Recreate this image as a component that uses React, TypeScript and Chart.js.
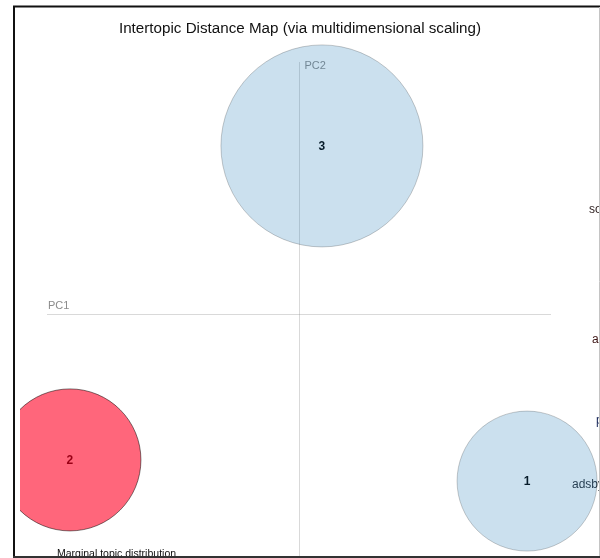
import React, { useEffect, useRef } from "react";
import { Chart, registerables } from "chart.js";

Chart.register(...registerables);

// ---- data ----
const topicIds = ["1", "2", "3"];
const pc1Values = [0.905, -0.909, 0.091];
const pc2Values = [-0.663, -0.579, 0.667];
const marginalPct = [24.3, 25.0, 50.6];
const selectedTopic = "2";

const titleText = "Intertopic Distance Map (via multidimensional scaling)";
const xAxisName = "PC1";
const yAxisName = "PC2";
const sizeLegendText = "Marginal topic distribution";
const termLabels = ["so", "ar", "p", "adsby"];

// ---- styles / layout (not data) ----
const FONT = "'Liberation Sans', Arial, sans-serif";
const RADIUS_PER_SQRT_PCT = 14.2;
const termLayout = [
  { x: 589, y: 210, color: "#2b1d1d" },
  { x: 592, y: 340, color: "#3d1515" },
  { x: 596, y: 421, color: "#1c2b5c" },
  { x: 572, y: 485, color: "#2a2f36" },
];

export default function App() {
  const canvasRef = useRef<HTMLCanvasElement>(null);

  useEffect(() => {
    const canvas = canvasRef.current;
    if (!canvas) return;

    const points = topicIds.map((id, i) => ({
      x: pc1Values[i],
      y: pc2Values[i],
      r: Math.sqrt(marginalPct[i]) * RADIUS_PER_SQRT_PCT,
    }));

    const isSel = (i: number) => topicIds[i] === selectedTopic;

    const overlay = {
      id: "ldavisOverlay",
      beforeDatasetsDraw(chart: any) {
        const { ctx, scales } = chart;
        const xs = scales.x;
        const ys = scales.y;
        const W = chart.width;
        const H = chart.height;
        ctx.save();

        // title
        ctx.fillStyle = "#111";
        ctx.font = `15.2px ${FONT}`;
        ctx.textAlign = "center";
        ctx.textBaseline = "middle";
        ctx.fillText(titleText, W / 2, 28.5);

        // PC axes
        const x0 = Math.round(xs.getPixelForValue(0)) + 0.5;
        const y0 = Math.round(ys.getPixelForValue(0)) + 0.5;
        ctx.strokeStyle = "rgba(128,128,128,0.3)";
        ctx.lineWidth = 1;
        ctx.beginPath();
        ctx.moveTo(xs.getPixelForValue(-1), y0);
        ctx.lineTo(xs.getPixelForValue(1), y0);
        ctx.moveTo(x0, ys.getPixelForValue(1));
        ctx.lineTo(x0, H);
        ctx.stroke();

        ctx.fillStyle = "#8c8c8c";
        ctx.font = `11px ${FONT}`;
        ctx.textAlign = "left";
        ctx.textBaseline = "middle";
        ctx.fillText(xAxisName, xs.getPixelForValue(-1) + 1, y0 - 9);
        ctx.fillText(yAxisName, x0 + 5, ys.getPixelForValue(1) + 4);

        // topic numbers (drawn under the translucent circles)
        ctx.fillStyle = "#000";
        ctx.font = `bold 12px ${FONT}`;
        ctx.textAlign = "center";
        points.forEach((p, i) => {
          ctx.fillText(topicIds[i], xs.getPixelForValue(p.x), ys.getPixelForValue(p.y) + 1);
        });

        // clipped term labels of the neighbouring panel
        ctx.save();
        ctx.beginPath();
        ctx.rect(0, 0, 600, H);
        ctx.clip();
        ctx.font = `12px ${FONT}`;
        ctx.textAlign = "left";
        termLabels.forEach((t, i) => {
          ctx.fillStyle = termLayout[i].color;
          ctx.fillText(t, termLayout[i].x, termLayout[i].y);
        });
        ctx.restore();

        // size legend caption
        ctx.fillStyle = "#111";
        ctx.font = `10.5px ${FONT}`;
        ctx.textAlign = "left";
        ctx.textBaseline = "alphabetic";
        ctx.fillText(sizeLegendText, 57, 557);

        ctx.restore();
      },
      afterDraw(chart: any) {
        const { ctx } = chart;
        ctx.save();
        ctx.strokeStyle = "#111";
        ctx.lineWidth = 2;
        ctx.beginPath();
        ctx.moveTo(14, 558);
        ctx.lineTo(14, 6.5);
        ctx.lineTo(600, 6.5);
        ctx.stroke();
        ctx.beginPath();
        ctx.strokeStyle = "#333";
        ctx.moveTo(13, 557);
        ctx.lineTo(600, 557);
        ctx.stroke();
        ctx.strokeStyle = "#c4c4c4";
        ctx.lineWidth = 1;
        ctx.beginPath();
        ctx.moveTo(599.5, 7);
        ctx.lineTo(599.5, 556);
        ctx.stroke();
        ctx.restore();
      },
    };

    const chart = new Chart(canvas, {
      type: "bubble",
      data: {
        datasets: [
          {
            label: "topics",
            data: points,
            backgroundColor: topicIds.map((_, i) =>
              isSel(i) ? "rgba(255,0,35,0.6)" : "rgba(31,119,180,0.23)"
            ),
            borderColor: topicIds.map((_, i) =>
              isSel(i) ? "rgba(0,0,0,0.5)" : "rgba(0,0,0,0.2)"
            ),
            borderWidth: 1,
            hoverRadius: 0,
            clip: { left: 27, top: 62, right: 47, bottom: -2 },
          } as any,
        ],
      },
      options: {
        responsive: false,
        animation: false,
        events: [],
        layout: { padding: { left: 47, right: 49, top: 62, bottom: 0 }, autoPadding: false },
        scales: {
          x: { type: "linear", min: -1, max: 1, display: false },
          y: { type: "linear", min: -1 + 8 / 252, max: 1, display: false },
        },
        plugins: {
          legend: { display: false },
          tooltip: { enabled: false },
          title: { display: false },
        },
      },
      plugins: [overlay],
    });

    return () => chart.destroy();
  }, []);

  return (
    <div style={{ position: "fixed", left: 0, top: 0, width: 600, height: 558, background: "#fff" }}>
      <canvas ref={canvasRef} width={600} height={558} style={{ display: "block" }} />
    </div>
  );
}
